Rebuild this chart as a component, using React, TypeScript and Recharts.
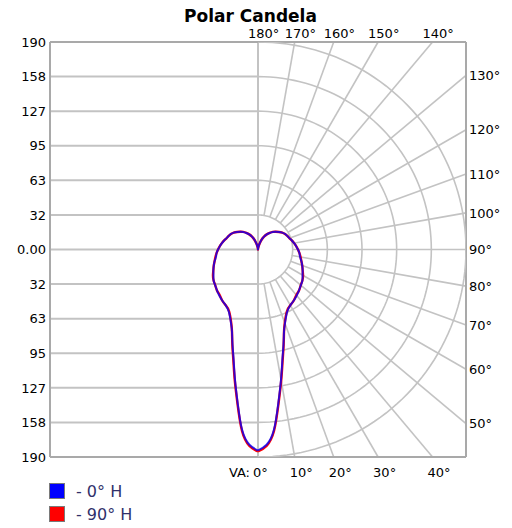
import React from "react";
import { ReferenceLine, Scatter, ScatterChart, XAxis, YAxis } from "recharts";

const MAX_CD = 190;
const RINGS = [1, 2, 3, 4, 5, 6]; // ring k sits at k/6 of MAX_CD

// left axis labels, top to bottom
const candelaLabels = ["190", "158", "127", "95", "63", "32", "0.00", "32", "63", "95", "127", "158", "190"];
const spokeAngles = [10, 20, 30, 40, 50, 60, 70, 80, 90, 100, 110, 120, 130, 140, 150, 160, 170];
const topAngles = [180, 170, 160, 150, 140];
const rightAngles = [130, 120, 110, 100, 90, 80, 70, 60, 50];
const bottomAngles = [0, 10, 20, 30, 40];

// vertical angle (0 = straight down) and candela
const verticalAngles = [0, 2.5, 5, 7.5, 10, 12.5, 15, 17.5, 20, 25, 30, 35, 40, 45, 50, 55, 60, 65, 70, 75, 80, 85, 90, 95, 100, 105, 110, 115, 120, 125, 130, 135, 140, 145, 150, 155, 160, 165, 170, 175, 180];
const candela0H = [184, 179, 166, 142, 121, 103, 90, 79, 72, 63, 59, 57, 55, 53, 51, 49.5, 47, 45, 43, 41, 39, 38, 36.5, 35, 33.5, 32, 30.5, 29.5, 28.5, 27, 25, 23, 21, 18.5, 16, 13, 9.5, 5.5, 2.5, 0.8, 0];
const candela90H = [185, 180, 167, 143, 122, 104, 90.5, 79, 71.5, 62.5, 59, 57, 54.5, 53, 51, 49.5, 47.5, 45, 43, 41, 39.5, 38, 36.5, 35, 33.5, 32, 30.5, 29.5, 28.5, 27, 25, 23, 21, 18.5, 16, 13, 9.5, 5.5, 2.5, 0.8, 0];

const GRID = "#c3c3c3";
const BORDER = "#a9a9a9";
const FONT = "'DejaVu Sans', Verdana, sans-serif";
const LABEL = { fontFamily: FONT, fontSize: 13, fill: "#000" };

const rad = (a: number) => (a * Math.PI) / 180;
const polar = (a: number, r: number, side = 1) => ({
  x: side * r * Math.sin(rad(a)),
  y: -r * Math.cos(rad(a)),
});
// where a spoke at angle a meets the square frame
const borderHit = (a: number) => {
  const s = Math.sin(rad(a));
  const c = -Math.cos(rad(a));
  const t = MAX_CD / Math.max(Math.abs(s), Math.abs(c));
  return { x: s * t, y: c * t };
};
const step = MAX_CD / RINGS.length;

const curvePoints = (values: number[]) => [
  ...verticalAngles.map((a, i) => polar(a, values[i], 1)),
  ...verticalAngles.map((a, i) => polar(a, values[i], -1)).reverse().slice(1),
];
const arcAngles = Array.from({ length: 91 }, (_, i) => i * 2);
const ringPoints = (k: number) => arcAngles.map((a) => polar(a, k * step));

const leftTicks = candelaLabels.map((_, i) => MAX_CD - i * step);
const topTicks = topAngles.map((a) => borderHit(a).x);
const rightTicks = rightAngles.map((a) => borderHit(a).y);
const bottomTicks = bottomAngles.map((a) => borderHit(a).x);

const nearest = (ticks: number[], v: number) => {
  let best = 0;
  ticks.forEach((t, i) => {
    if (Math.abs(t - v) < Math.abs(ticks[best] - v)) best = i;
  });
  return best;
};

const LeftTick = (p: any) => (
  <text x={p.x} y={p.y} dy="0.36em" textAnchor="end" style={LABEL}>
    {candelaLabels[nearest(leftTicks, p.payload.value)]}
  </text>
);
const RightTick = (p: any) => (
  <text x={p.x} y={p.y} dy="0.36em" textAnchor="start" style={LABEL}>
    {rightAngles[nearest(rightTicks, p.payload.value)]}°
  </text>
);
const TopTick = (p: any) => (
  <text x={p.x - 10} y={p.y} textAnchor="start" style={LABEL}>
    {topAngles[nearest(topTicks, p.payload.value)]}°
  </text>
);
const BottomTick = (p: any) => {
  const a = bottomAngles[nearest(bottomTicks, p.payload.value)];
  return (
    <g>
      {a === 0 && (
        <text x={p.x - 8} y={p.y + 16} textAnchor="end" style={LABEL}>
          VA:
        </text>
      )}
      <text x={p.x - 5} y={p.y + 16} textAnchor="start" style={LABEL}>
        {a}°
      </text>
    </g>
  );
};

const noDot = () => <g />;

export default function App() {
  return (
    <div style={{ position: "relative", width: 504, height: 520 }}>
      <div
        style={{
          position: "absolute",
          left: 0,
          width: 485,
          top: -2,
          textAlign: "center",
          fontFamily: FONT,
          fontWeight: "bold",
          fontSize: 17,
          lineHeight: "20px",
        }}
      >
        Polar Candela
      </div>
      <ScatterChart width={504} height={520} margin={{ top: 14, right: 0, bottom: 41, left: 0 }}>
        <XAxis
          xAxisId="bottom"
          type="number"
          dataKey="x"
          domain={[-MAX_CD, MAX_CD]}
          allowDataOverflow
          ticks={bottomTicks}
          interval={0}
          height={30}
          tickSize={0}
          tickMargin={4}
          tickLine={false}
          axisLine={{ stroke: BORDER, strokeWidth: 2 }}
          tick={BottomTick}
        />
        <XAxis
          xAxisId="top"
          orientation="top"
          type="number"
          dataKey="x"
          domain={[-MAX_CD, MAX_CD]}
          allowDataOverflow
          ticks={topTicks}
          interval={0}
          height={20}
          tickSize={0}
          tickMargin={4}
          tickLine={false}
          axisLine={{ stroke: BORDER, strokeWidth: 2 }}
          tick={TopTick}
        />
        <YAxis
          yAxisId="left"
          type="number"
          dataKey="y"
          domain={[-MAX_CD, MAX_CD]}
          allowDataOverflow
          ticks={leftTicks}
          interval={0}
          width={42}
          tickSize={0}
          tickMargin={4}
          tickLine={false}
          axisLine={{ stroke: BORDER, strokeWidth: 2 }}
          tick={LeftTick}
        />
        <YAxis
          yAxisId="right"
          orientation="right"
          type="number"
          dataKey="y"
          domain={[-MAX_CD, MAX_CD]}
          allowDataOverflow
          ticks={rightTicks}
          interval={0}
          width={46}
          tickSize={0}
          tickMargin={3}
          tickLine={false}
          axisLine={{ stroke: BORDER, strokeWidth: 2 }}
          tick={RightTick}
        />

        {/* left half: plain horizontal lines */}
        {leftTicks.map((y) => (
          <ReferenceLine
            key={`h${y}`}
            xAxisId="bottom"
            yAxisId="left"
            segment={[{ x: -MAX_CD, y }, { x: 0, y }]}
            stroke={GRID}
            strokeWidth={2}
            ifOverflow="visible"
          />
        ))}
        <ReferenceLine xAxisId="bottom" yAxisId="left" x={0} stroke={GRID} strokeWidth={2} ifOverflow="visible" />

        {/* right half: spokes every 10° */}
        {spokeAngles.map((a) => (
          <ReferenceLine
            key={`s${a}`}
            xAxisId="bottom"
            yAxisId="left"
            segment={[polar(a, step), borderHit(a)]}
            stroke={GRID}
            strokeWidth={1.6}
            ifOverflow="visible"
          />
        ))}

        {/* right half: rings */}
        {RINGS.map((k) => (
          <Scatter
            key={`r${k}`}
            xAxisId="bottom"
            yAxisId="left"
            data={ringPoints(k)}
            line={{ stroke: GRID, strokeWidth: 1.6 }}
            shape={noDot}
            legendType="none"
            isAnimationActive={false}
          />
        ))}

        <Scatter
          name="90° H"
          xAxisId="bottom"
          yAxisId="left"
          data={curvePoints(candela90H)}
          line={{ stroke: "#ff0000", strokeWidth: 2.4 }}
          lineJointType="natural"
          shape={noDot}
          isAnimationActive={false}
        />
        <Scatter
          name="0° H"
          xAxisId="bottom"
          yAxisId="left"
          data={curvePoints(candela0H)}
          line={{ stroke: "#0000ff", strokeWidth: 2, strokeOpacity: 0.78 }}
          lineJointType="natural"
          shape={noDot}
          isAnimationActive={false}
        />
      </ScatterChart>

      {[
        { color: "#0000ff", label: "- 0° H" },
        { color: "#ff0000", label: "- 90° H" },
      ].map((item, i) => (
        <div
          key={item.label}
          style={{
            position: "absolute",
            left: 41,
            top: 475 + i * 23,
            display: "flex",
            alignItems: "center",
            height: 16,
            fontFamily: FONT,
            fontSize: 16,
            color: "#30306a",
          }}
        >
          <span
            style={{
              display: "inline-block",
              width: 14,
              height: 14,
              background: item.color,
              border: "1px solid #7a7a7a",
              marginRight: 11,
            }}
          />
          {item.label}
        </div>
      ))}
    </div>
  );
}
